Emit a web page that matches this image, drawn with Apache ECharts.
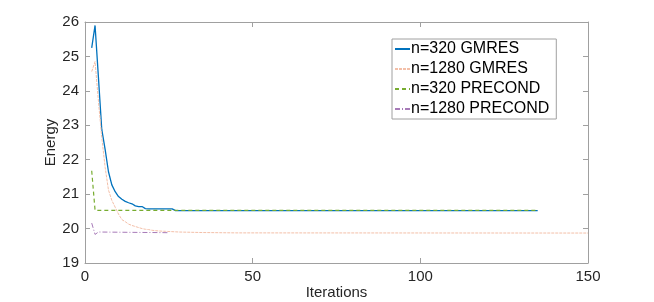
<!DOCTYPE html>
<html>
<head>
<meta charset="utf-8">
<script src="https://cdn.jsdelivr.net/npm/echarts@6/dist/echarts.min.js"></script>
<style>html,body{margin:0;padding:0;background:#fff}#c{width:654px;height:302px}</style>
</head>
<body>
<div id="c"></div>
<script>
var seriesNames = ['n=320 GMRES', 'n=1280 GMRES', 'n=320 PRECOND', 'n=1280 PRECOND'];
var xTicks = [0, 50, 100, 150];
var yTicks = [19, 20, 21, 22, 23, 24, 25, 26];

var gm320X = [2, 3, 4, 5, 6, 7, 8, 9, 10, 11, 12, 13, 14, 15, 16, 17, 18, 19, 26, 27, 135];
var gm320Y = [25.25, 25.9, 24.4, 22.88, 22.3, 21.65, 21.27, 21.07, 20.93, 20.85, 20.79, 20.75, 20.72, 20.66, 20.64, 20.64, 20.58, 20.57, 20.57, 20.52, 20.52];

var gm1280X = [2, 3, 4, 5, 6, 7, 8, 9, 10, 11, 12, 13, 14, 15, 16, 17, 18, 19, 20, 22, 24, 28, 35, 45, 150];
var gm1280Y = [24.56, 24.85, 23.7, 22.65, 21.78, 21.12, 20.82, 20.62, 20.42, 20.26, 20.2, 20.13, 20.09, 20.06, 20.03, 20.0, 19.98, 19.97, 19.95, 19.93, 19.92, 19.9, 19.885, 19.875, 19.87];

var pc320X = [2, 3, 135];
var pc320Y = [21.68, 20.53, 20.53];

var pc1280X = [2, 3, 4, 25];
var pc1280Y = [20.16, 19.83, 19.9, 19.88];

function pairs(xs, ys) { return xs.map(function (x, i) { return [x, ys[i]]; }); }

var FONT = 'Liberation Sans, Arial, sans-serif';
var TXT = '#262626';
var AX = '#a0a0a0';

var chart = echarts.init(document.getElementById('c'));
var axisCommon = {
  type: 'value',
  axisLine: { show: true, onZero: false, lineStyle: { color: AX, width: 1 } },
  axisTick: { show: true, inside: true, length: 5, lineStyle: { color: AX } },
  splitLine: { show: false }
};
chart.setOption({
  animation: false,
  textStyle: { fontFamily: FONT },
  grid: { left: 85, right: 66, top: 22, bottom: 39, containLabel: false, outerBoundsMode: 'none' },
  xAxis: [
    Object.assign({}, axisCommon, {
      min: xTicks[0], max: xTicks[xTicks.length - 1], interval: 50,
      position: 'bottom',
      name: 'Iterations', nameLocation: 'middle', nameGap: 22, nameMoveOverlap: false,
      nameTextStyle: { color: TXT, fontSize: 15, fontFamily: FONT },
      axisLabel: { color: TXT, fontSize: 15, margin: 6, fontFamily: FONT }
    }),
    Object.assign({}, axisCommon, {
      min: xTicks[0], max: xTicks[xTicks.length - 1], interval: 50,
      position: 'top', axisLabel: { show: false }
    })
  ],
  yAxis: [
    Object.assign({}, axisCommon, {
      min: yTicks[0], max: yTicks[yTicks.length - 1], interval: 1,
      position: 'left',
      name: 'Energy', nameLocation: 'middle', nameGap: 27, nameMoveOverlap: false,
      nameTextStyle: { color: TXT, fontSize: 15, fontFamily: FONT },
      axisLabel: { color: TXT, fontSize: 15, margin: 6, fontFamily: FONT }
    }),
    Object.assign({}, axisCommon, {
      min: yTicks[0], max: yTicks[yTicks.length - 1], interval: 1,
      position: 'right', axisLabel: { show: false }
    })
  ],
  legend: {
    orient: 'vertical',
    left: 392, top: 39,
    data: seriesNames,
    itemWidth: 15, itemHeight: 14, itemGap: 4,
    padding: [2, 7, 2, 2],
    borderColor: '#a0a0a0', borderWidth: 1,
    itemStyle: { opacity: 0 },
    textStyle: { color: '#000', fontSize: 16, lineHeight: 16, fontFamily: FONT, padding: [0, 0, 0, -4] }
  },
  series: [
    { name: seriesNames[0], type: 'line', showSymbol: false, symbol: 'none',
      data: pairs(gm320X, gm320Y), lineStyle: { color: '#0072BD', width: 1.3 }, itemStyle: { color: '#0072BD' } },
    { name: seriesNames[1], type: 'line', showSymbol: false, symbol: 'none',
      data: pairs(gm1280X, gm1280Y), lineStyle: { color: '#F3BFA8', width: 1, type: [3, 1] }, itemStyle: { color: '#F3BFA8' } },
    { name: seriesNames[2], type: 'line', showSymbol: false, symbol: 'none',
      data: pairs(pc320X, pc320Y), lineStyle: { color: '#77AC30', width: 1.2, type: [4, 3] }, itemStyle: { color: '#77AC30' } },
    { name: seriesNames[3], type: 'line', showSymbol: false, symbol: 'none',
      data: pairs(pc1280X, pc1280Y), lineStyle: { color: '#A77AB8', width: 1, type: [5, 2, 1, 2] }, itemStyle: { color: '#A77AB8' } }
  ]
});
</script>
</body>
</html>
